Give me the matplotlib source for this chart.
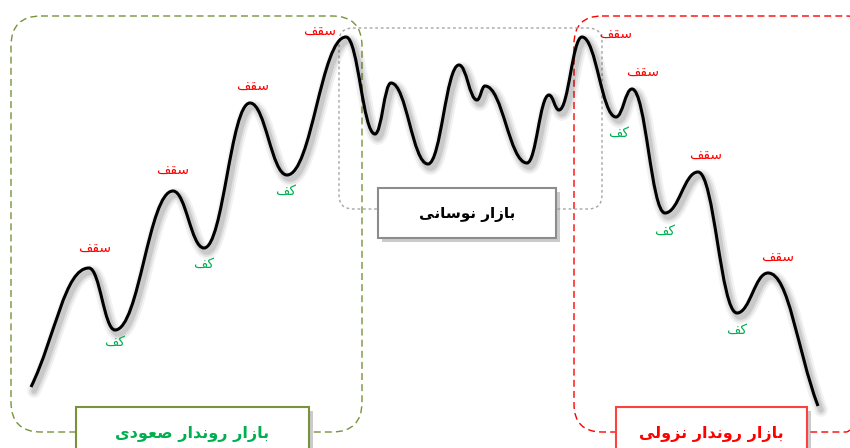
import matplotlib

matplotlib.use("Agg")
import matplotlib.pyplot as plt
import matplotlib.patheffects as pe
import matplotlib.transforms as mtransforms
from matplotlib.path import Path
from matplotlib.patches import PathPatch, FancyBboxPatch

# turning points of the price curve (pixel space, y grows downwards)
curve_x = [31, 89, 115, 173, 204, 250, 287, 346, 375, 391, 428, 459, 477,
           485, 527, 549, 559, 582, 616, 632, 665, 698, 737, 768, 818]
curve_y = [387, 268, 330, 191, 248, 103, 175, 37, 134, 83, 164, 65, 100,
           86, 163, 95, 110, 37, 117, 89, 213, 172, 313, 273, 406]

# "ceiling" / "floor" labels
peak_x = [95, 173, 253, 320, 616, 643, 706, 778]
peak_y = [248, 170, 86, 31, 34, 72, 155, 257]
trough_x = [115, 204, 286, 619, 665, 737]
trough_y = [342, 264, 191, 133, 231, 330]

peak_text = "سقف"
trough_text = "کف"
up_text = "بازار روندار صعودی"
range_text = "بازار نوسانی"
down_text = "بازار روندار نزولی"

GREEN_LINE = "#77933C"
GREEN_TEXT = "#00B050"
RED = "#FF0000"

# presentation forms: isolated, final, initial, medial
FORMS = {
    "ا": ("\uFE8D", "\uFE8E", None, None),
    "ب": ("\uFE8F", "\uFE90", "\uFE91", "\uFE92"),
    "د": ("\uFEA9", "\uFEAA", None, None),
    "ر": ("\uFEAD", "\uFEAE", None, None),
    "ز": ("\uFEAF", "\uFEB0", None, None),
    "س": ("\uFEB1", "\uFEB2", "\uFEB3", "\uFEB4"),
    "ص": ("\uFEB9", "\uFEBA", "\uFEBB", "\uFEBC"),
    "ع": ("\uFEC9", "\uFECA", "\uFECB", "\uFECC"),
    "ف": ("\uFED1", "\uFED2", "\uFED3", "\uFED4"),
    "ق": ("\uFED5", "\uFED6", "\uFED7", "\uFED8"),
    "ک": ("\uFB8E", "\uFB8F", "\uFB90", "\uFB91"),
    "ل": ("\uFEDD", "\uFEDE", "\uFEDF", "\uFEE0"),
    "ن": ("\uFEE5", "\uFEE6", "\uFEE7", "\uFEE8"),
    "و": ("\uFEED", "\uFEEE", None, None),
    "ی": ("\uFBFC", "\uFBFD", "\uFBFE", "\uFBFF"),
}


def shape(text):
    """join persian letters and put them in visual (left to right) order"""
    out = []
    for i, ch in enumerate(text):
        forms = FORMS.get(ch)
        if forms is None:
            out.append(ch)
            continue
        prev = text[i - 1] if i > 0 else ""
        nxt = text[i + 1] if i + 1 < len(text) else ""
        join_prev = prev in FORMS and FORMS[prev][2] is not None
        join_next = forms[2] is not None and nxt in FORMS
        if join_prev and join_next:
            out.append(forms[3])
        elif join_prev:
            out.append(forms[1])
        elif join_next:
            out.append(forms[2])
        else:
            out.append(forms[0])
    return "".join(reversed(out))


def curve_path(xs, ys, k=0.42):
    """bezier path through the turning points, flat at every extremum"""
    n = len(xs)
    slopes = [0.0] * n
    slopes[0] = (ys[1] - ys[0]) / (xs[1] - xs[0])
    slopes[-1] = (ys[-1] - ys[-2]) / (xs[-1] - xs[-2])
    verts = [(xs[0], ys[0])]
    codes = [Path.MOVETO]
    for i in range(n - 1):
        dx = xs[i + 1] - xs[i]
        verts += [
            (xs[i] + k * dx, ys[i] + slopes[i] * k * dx),
            (xs[i + 1] - k * dx, ys[i + 1] - slopes[i + 1] * k * dx),
            (xs[i + 1], ys[i + 1]),
        ]
        codes += [Path.CURVE4] * 3
    return Path(verts, codes)


plt.rcParams["font.family"] = ["DejaVu Sans"]

fig = plt.figure(figsize=(8.5, 4.48), dpi=100)
ax = fig.add_axes([0, 0, 1, 1])
ax.set_xlim(0, 850)
ax.set_ylim(448, 0)
ax.axis("off")

# dashed zones
ax.add_patch(FancyBboxPatch((11, 16), 351, 416,
                            boxstyle="round,pad=0,rounding_size=30",
                            fill=False, edgecolor=GREEN_LINE, lw=1.0,
                            linestyle=(0, (5, 3)), zorder=1))
ax.add_patch(FancyBboxPatch((574, 16), 300, 416,
                            boxstyle="round,pad=0,rounding_size=28",
                            fill=False, edgecolor=RED, lw=1.0,
                            linestyle=(0, (5, 3)), zorder=1))
ax.add_patch(FancyBboxPatch((339, 28), 263, 181,
                            boxstyle="round,pad=0,rounding_size=14",
                            fill=False, edgecolor="#A6A6A6", lw=1.0,
                            linestyle=(0, (2, 2)), zorder=1))

# price curve with a soft shadow
path = curve_path(curve_x, curve_y)
shift = ax.transData + mtransforms.Affine2D().translate(3, -4)
for lw, alpha in [(10, 0.05), (7, 0.07), (4, 0.1)]:
    ax.add_patch(PathPatch(path, fill=False, edgecolor="black", lw=lw,
                           alpha=alpha, transform=shift, zorder=2,
                           capstyle="round", joinstyle="round"))
ax.add_patch(PathPatch(path, fill=False, edgecolor="black", lw=2.2,
                       zorder=3, capstyle="butt"))

for x, y in zip(peak_x, peak_y):
    ax.text(x, y, shape(peak_text), color=RED, fontsize=10,
            ha="center", va="center", zorder=4)
for x, y in zip(trough_x, trough_y):
    ax.text(x, y, shape(trough_text), color=GREEN_TEXT, fontsize=10,
            ha="center", va="center", zorder=4)

# titled boxes
shadow = [pe.withSimplePatchShadow(offset=(3, -3), shadow_rgbFace="0.55",
                                   alpha=0.45)]
boxes = [
    ((76, 407), 233, 60, GREEN_LINE, up_text, GREEN_TEXT, (192, 434), 11.5),
    ((378, 188), 178, 50, "#8C8C8C", range_text, "black", (467, 214), 11),
    ((616, 407), 191, 60, "#FF4040", down_text, RED, (711, 434), 11.5),
]
for xy, w, h, edge, label, tcolor, center, size in boxes:
    ax.add_patch(FancyBboxPatch(xy, w, h, boxstyle="square,pad=0",
                                facecolor="white", edgecolor=edge, lw=1.5,
                                zorder=5, path_effects=shadow))
    ax.text(center[0], center[1], shape(label), color=tcolor, fontsize=size,
            fontweight="bold", ha="center", va="center", zorder=6)

fig.savefig("out.png", dpi=100)
